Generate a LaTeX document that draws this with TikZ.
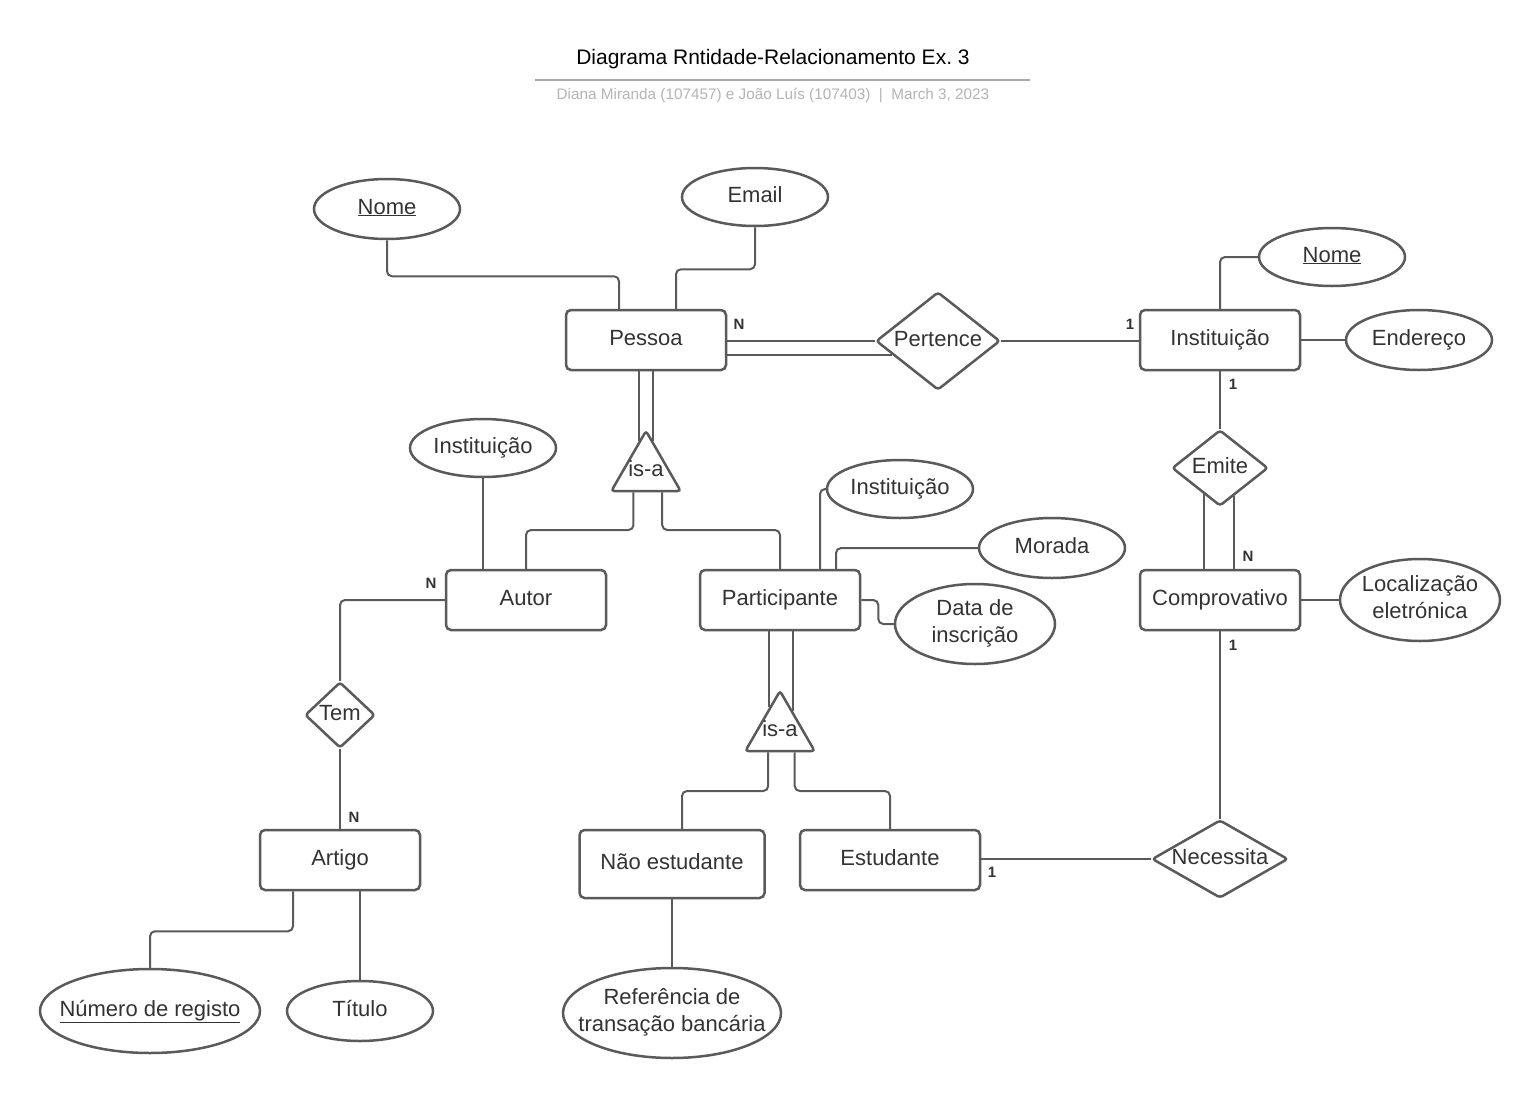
\documentclass[tikz,border=0pt]{standalone}
\usepackage{fontspec}
\setmainfont{Liberation Sans}
\usetikzlibrary{shapes.geometric,calc}
\frenchspacing
\definecolor{ln}{HTML}{5A5A5A}
\definecolor{tx}{HTML}{333333}
\definecolor{subt}{HTML}{B4B4B4}
\definecolor{rule}{HTML}{A8A8A8}
\newcommand{\zt}[1]{\makebox[0pt][c]{#1}}
\newcommand{\ztt}[2]{\makebox[0pt][c]{\begin{tabular}{@{}c@{}}#1\\#2\end{tabular}}}
\tikzset{
  txtfont/.style={font=\fontsize{22}{27}\selectfont, text=tx, text height=16pt, text depth=6pt},
  twoline/.style={text height=, text depth=},
  ent/.style={draw=ln, line width=2.5pt, rounded corners=5pt, minimum width=160pt, minimum height=60pt, inner sep=0pt, txtfont},
  attr/.style={draw=ln, line width=2.5pt, ellipse, minimum width=146pt, minimum height=60pt, inner sep=0pt, txtfont},
  rel/.style={draw=ln, line width=2.5pt, diamond, inner sep=0pt, rounded corners=3pt, txtfont},
  isa/.style={draw=ln, line width=2.5pt, regular polygon, regular polygon sides=3, minimum size=80pt, inner sep=0pt, rounded corners=3pt, txtfont},
  conn/.style={draw=ln, line width=2pt, rounded corners=5pt},
  card/.style={font=\bfseries\fontsize{15}{18}\selectfont, text=tx, inner sep=0pt},
}
\begin{document}
\begin{tikzpicture}[x=1pt,y=-1pt]
\useasboundingbox[fill=white] (0,0) rectangle (1540,1100);

% title block
\node[font=\fontsize{21}{25}\selectfont, text=black] (title) at (773,59) {Diagrama Rntidade-Relacionamento Ex. 3};
\coordinate (rl) at (535,80);
\coordinate (rr) at (1030,80);
\draw[rule, line width=2pt] (rl) -- (rr);
\node[font=\fontsize{15.3}{18}\selectfont, text=subt] (sub) at (773,95) {Diana Miranda (107457) e João Luís (107403)~~|~~March 3, 2023};

% entities
\node[ent] (pessoa) at (646,340) {Pessoa};
\node[ent] (inst) at (1220,340) {Instituição};
\node[ent] (autor) at (526,600) {Autor};
\node[ent] (part) at (780,600) {Participante};
\node[ent] (comp) at (1220,600) {Comprovativo};
\node[ent] (artigo) at (340,860) {Artigo};
\node[ent, minimum width=185pt, minimum height=68pt] (nao) at (672,864) {Não estudante};
\node[ent, minimum width=180pt] (est) at (890,860) {Estudante};

% attributes
\node[attr] (n1) at (387,209) {\zt{\underline{Nome}}};
\node[attr, minimum height=58pt] (email) at (755,197) {\zt{Email}};
\node[attr, minimum height=58pt] (ni) at (1332,257) {\zt{\underline{Nome}}};
\node[attr] (end) at (1419,340) {\zt{Endereço}};
\node[attr, minimum height=58pt] (ia) at (483,448) {\zt{Instituição}};
\node[attr, minimum height=58pt] (ip) at (900,489) {\zt{Instituição}};
\node[attr] (mor) at (1052,548) {\zt{Morada}};
\node[attr, twoline, minimum width=160pt, minimum height=80pt] (dat) at (975,624) {\ztt{Data de}{inscrição}};
\node[attr, twoline, minimum width=160pt, minimum height=82pt] (loc) at (1420,600) {\ztt{Localização}{eletrónica}};
\node[attr, minimum width=220pt, minimum height=84pt] (num) at (150,1011) {\zt{\underline{Número de registo}}};
\node[attr] (tit) at (360,1011) {\zt{Título}};
\node[attr, twoline, minimum width=218pt, minimum height=90pt] (refb) at (672,1013) {\ztt{Referência de}{transação bancária}};

% relationships
\node[rel, minimum width=124pt, minimum height=98pt, aspect=1.27] (pert) at (938,341) {\zt{Pertence}};
\node[rel, minimum width=96pt, minimum height=76pt, aspect=1.26] (emite) at (1220,468) {\zt{Emite}};
\node[rel, minimum width=70pt, minimum height=66pt, aspect=1.06] (tem) at (340,715) {\zt{Tem}};
\node[rel, minimum width=136pt, minimum height=78pt, aspect=1.74] (nec) at (1220,859) {\zt{Necessita}};

% is-a
\node[isa] (isa1) at (646,471) {\zt{is-a}};
\node[isa] (isa2) at (780,731) {\zt{is-a}};

% connectors: Pessoa
\draw[conn] (n1.south) -- ++(0,36) -| ([xshift=-27pt]pessoa.north);
\draw[conn] (email.south) -- ++(0,42) -| ([xshift=30pt]pessoa.north);
\draw[conn] (pessoa.east |- pert.west) -- (pert.west);
\coordinate (pl) at ($(pert.west)!0.28!(pert.south)$);
\draw[conn] (pl -| pessoa.east) -- (pl);
\draw[conn] (pert.east) -- (pert.east -| inst.west);

% Instituição
\draw[conn] (ni.west) -| (inst.north);
\draw[conn] (inst.east) -- (end.west);
\draw[conn] (inst.south) -- (emite.north);
\coordinate (e1) at ($(emite.south)!0.33!(emite.west)$);
\coordinate (e2) at ($(emite.south)!0.29!(emite.east)$);
\draw[conn] (e1) -- (e1 |- comp.north);
\draw[conn] (e2) -- (e2 |- comp.north);

% Comprovativo
\draw[conn] (comp.east) -- (loc.west);
\draw[conn] (comp.south) -- (nec.north);
\draw[conn] (nec.west) -- (nec.west -| est.east);

% Pessoa is-a
\coordinate (p1) at ($(isa1.corner 1)!0.2!(isa1.corner 2)$);
\coordinate (p2) at ($(isa1.corner 1)!0.2!(isa1.corner 3)$);
\draw[conn] (p1) -- (p1 |- pessoa.south);
\draw[conn] (p2) -- (p2 |- pessoa.south);
\coordinate (b1) at ($(isa1.corner 2)!0.33!(isa1.corner 3)$);
\coordinate (b2) at ($(isa1.corner 2)!0.72!(isa1.corner 3)$);
\draw[conn] (b1) -- (b1 |- 0,530) -| (autor.north);
\draw[conn] (b2) -- (b2 |- 0,530) -| (part.north);

% Autor
\draw[conn] (ia.south) -- (ia.south |- autor.north);
\draw[conn] (autor.west) -| (tem.north);
\draw[conn] (tem.south) -- (artigo.north);
\draw[conn] ([xshift=-47pt]artigo.south) -- ++(0,40) -| (num.north);
\draw[conn] ([xshift=20pt]artigo.south) -- (tit.north);

% Participante
\draw[conn] (ip.west) -| ([xshift=40pt]part.north);
\draw[conn] (mor.west) -| ([xshift=56pt]part.north);
\draw[conn] (part.east) -- ++(17,0) |- (dat.west);
\coordinate (q1) at ($(isa2.corner 1)!0.29!(isa2.corner 2)$);
\coordinate (q2) at ($(isa2.corner 1)!0.35!(isa2.corner 3)$);
\draw[conn] (q1) -- (q1 |- part.south);
\draw[conn] (q2) -- (q2 |- part.south);
\coordinate (c1) at ($(isa2.corner 2)!0.34!(isa2.corner 3)$);
\coordinate (c2) at ($(isa2.corner 2)!0.70!(isa2.corner 3)$);
\draw[conn] (c1) -- (c1 |- 0,791) -| ([xshift=10pt]nao.north);
\draw[conn] (c2) -- (c2 |- 0,791) -| (est.north);
\draw[conn] (nao.south) -- (refb.north);

% cardinalities
\node[card] (k1) at (739,324) {N};
\node[card] (k2) at (1130,324) {1};
\node[card] (k3) at (1233,384) {1};
\node[card] (k4) at (1248,556) {N};
\node[card] (k5) at (1233,645) {1};
\node[card] (k6) at (992,872) {1};
\node[card] (k7) at (431,583) {N};
\node[card] (k8) at (354,817) {N};
\end{tikzpicture}
\end{document}
